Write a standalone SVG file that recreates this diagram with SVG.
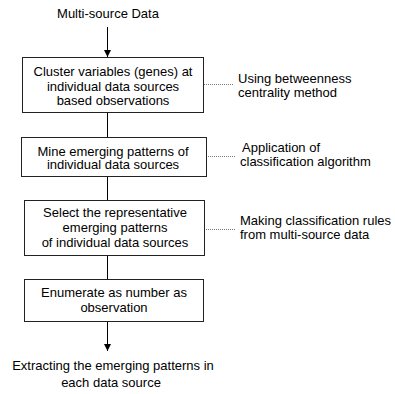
<svg xmlns="http://www.w3.org/2000/svg" width="395" height="394" viewBox="0 0 395 394">
<defs>
<marker id="arr" viewBox="0 0 10 10" refX="10" refY="5" markerWidth="7" markerHeight="7" markerUnits="userSpaceOnUse" orient="auto">
<path d="M0,0 L10,5 L0,10 z" fill="#000"/>
</marker>
<style>
text{font-family:"Liberation Sans",Arial,sans-serif;font-size:13px;fill:#000}
.c{text-anchor:middle}
.box{fill:#fff;stroke:#222;stroke-width:1}
.ln{stroke:#000;stroke-width:1;fill:none}
.dot{stroke:#777;stroke-width:1;stroke-dasharray:1,1;fill:none}
</style>
</defs>
<rect width="395" height="394" fill="#fff"/>
<g id="connectors">
<line class="ln" x1="107.5" y1="27" x2="107.5" y2="57" marker-end="url(#arr)"/>
<line class="ln" x1="107.5" y1="112" x2="107.5" y2="137"/>
<line class="ln" x1="107.5" y1="177" x2="107.5" y2="200"/>
<line class="ln" x1="107.5" y1="256" x2="107.5" y2="279"/>
<line class="ln" x1="107.5" y1="321" x2="107.5" y2="351" marker-end="url(#arr)"/>
<line class="dot" x1="204" y1="84.5" x2="233" y2="84.5"/>
<line class="dot" x1="206" y1="156.5" x2="236" y2="156.5"/>
<line class="dot" x1="204" y1="229.5" x2="235" y2="229.5"/>
</g>
<g id="input"><text class="c" x="108" y="18">Multi-source Data</text></g>
<g id="cluster">
<rect class="box" x="22.5" y="57.5" width="181" height="55"/>
<text class="c" x="113" y="76">Cluster variables (genes) at</text>
<text class="c" x="113" y="90.5">individual data sources</text>
<text class="c" x="113" y="105">based observations</text>
</g>
<g id="mine">
<rect class="box" x="21.5" y="137.5" width="185" height="39"/>
<text class="c" x="113" y="155.5">Mine emerging patterns of</text>
<text class="c" x="113" y="169">individual data sources</text>
</g>
<g id="select">
<rect class="box" x="24.5" y="200.5" width="180" height="55"/>
<text class="c" x="115" y="217">Select the representative</text>
<text class="c" x="115" y="232">emerging patterns</text>
<text class="c" x="115" y="247">of individual data sources</text>
</g>
<g id="enumerate">
<rect class="box" x="24.5" y="279.5" width="179" height="42"/>
<text class="c" x="114" y="297">Enumerate as number as</text>
<text class="c" x="114" y="312">observation</text>
</g>
<g id="output">
<text class="c" x="113" y="370">Extracting the emerging patterns in</text>
<text class="c" x="111" y="387">each data source</text>
</g>
<g id="note1">
<text x="238" y="83">Using betweenness</text>
<text x="238" y="97">centrality method</text>
</g>
<g id="note2">
<text x="242" y="152">Application of</text>
<text x="240" y="165.5">classification algorithm</text>
</g>
<g id="note3">
<text x="240" y="225">Making classification rules</text>
<text x="240" y="239">from multi-source data</text>
</g>
</svg>
